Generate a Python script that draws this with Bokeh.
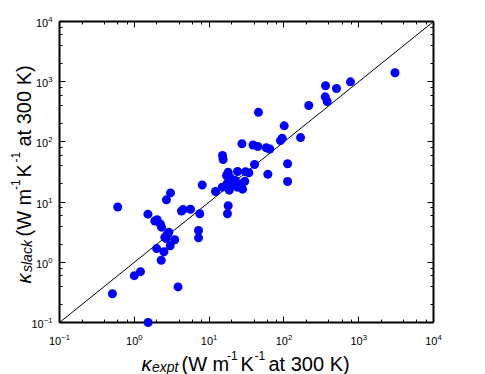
import math
from bokeh.plotting import figure
from bokeh.models import Range1d, LogAxis, LogScale, Label
from bokeh.embed import file_html
from bokeh.resources import INLINE

# thermal conductivity (W m^-1 K^-1 at 300 K)
kappa_expt = [0.51, 0.60, 1.00, 1.21, 1.53, 1.52, 1.88, 2.02, 2.24, 2.31,
              2.69, 3.05, 2.89, 2.75, 2.56, 2.67, 3.47, 1.99, 2.49, 3.02,
              2.29, 3.84, 4.27, 4.5, 5.64, 7.51, 7.22, 7.22, 8.09, 12.2,
              15.0, 17.5, 18.0, 17.6, 18.6, 19.3, 15.1, 15.4, 18.0, 17.1,
              19.3, 24.0, 30.7, 34.0, 30.0, 27.1, 22.5, 25.0, 28.0, 23.8,
              27.5, 38.6, 44.8, 58.2, 64.7, 40.5, 61.0, 45.7, 101, 94.9,
              90.0, 167, 112, 112, 215, 357, 379, 360, 505, 776, 3055]
kappa_slack = [0.30, 8.3, 0.60, 0.70, 0.10, 6.3, 4.85, 5.1, 4.28, 3.83,
               10.9, 14.2, 3.16, 2.9, 2.61, 2.48, 2.37, 1.69, 1.50, 1.88,
               1.08, 0.39, 7.1, 7.5, 7.6, 6.4, 3.37, 2.55, 19.2, 15.0,
               17.7, 20.6, 8.7, 6.4, 15.8, 19.4, 59.4, 51.0, 31.4, 27.7,
               25.3, 32.2, 31.8, 30.7, 22.2, 20.1, 22.8, 19.6, 16.4, 17.7,
               93, 88.7, 83.9, 79.8, 76.3, 42.2, 29.0, 310, 185, 115,
               105, 118, 43.3, 22.0, 403, 561, 469, 855, 771, 995, 1406]
axis_limits = [0.1, 1e4]

# ---- layout (pixels) ----
W, H = 485, 374
BOX_L, BOX_R, BOX_T, BOX_B = 59, 433, 21, 322
FONT = "Liberation Sans"

lo, hi = math.log10(axis_limits[0]), math.log10(axis_limits[1])
xdec = (BOX_R - BOX_L) / (hi - lo)
ydec = (BOX_B - BOX_T) / (hi - lo)
x_range = Range1d(10 ** (lo - BOX_L / xdec), 10 ** (hi + (W - BOX_R) / xdec))
y_range = Range1d(10 ** (lo - (H - BOX_B) / ydec), 10 ** (hi + BOX_T / ydec))

p = figure(width=W, height=H, x_axis_type=None, y_axis_type=None,
           x_range=x_range, y_range=y_range,
           output_backend="svg", toolbar_location=None,
           min_border=0)
p.x_scale = LogScale()
p.y_scale = LogScale()
p.grid.visible = False
p.outline_line_color = None
p.background_fill_color = "white"
p.border_fill_color = "white"

p.line(axis_limits, axis_limits, line_color="black", line_width=1)


def make_axis(side, fixed, standoff):
    ax = LogAxis(fixed_location=fixed, bounds=tuple(axis_limits))
    ax.axis_line_color = "black"
    ax.axis_line_width = 2
    ax.major_tick_in = 6
    ax.major_tick_out = 0
    ax.minor_tick_in = 3
    ax.minor_tick_out = 0
    ax.major_tick_line_color = "black"
    ax.minor_tick_line_color = "black"
    ax.major_tick_line_width = 1
    ax.minor_tick_line_width = 1
    if standoff is not None:
        ax.major_label_text_font = FONT
        ax.major_label_text_font_size = "11px"
        ax.major_label_text_color = "black"
        ax.major_label_standoff = standoff
    else:
        ax.major_label_text_font_size = "1px"
        ax.major_label_text_alpha = 0
        ax.major_label_standoff = 0
    p.add_layout(ax, side)


make_axis("below", axis_limits[0], 11)
make_axis("left", axis_limits[0], 7)
make_axis("above", axis_limits[1], None)
make_axis("right", axis_limits[1], None)

p.scatter(kappa_expt, kappa_slack, size=9, fill_color="blue", line_color=None,
          level="overlay")


def run(text, px, py, size, italic=False, angle=0.0):
    # px, py: canvas pixels from top-left
    p.add_layout(Label(x=px, y=H - py, x_units="screen", y_units="screen",
                       text=text, angle=angle, text_font=FONT,
                       text_font_size=f"{size}px",
                       text_font_style="italic" if italic else "normal",
                       text_color="black", text_baseline="alphabetic",
                       text_align="left", level="overlay"))


# x axis label: kappa_expt (W m^-1 K^-1 at 300 K)
xb = 363
run("κ", 141, xb, 20, italic=True)
run("expt", 151.5, xb + 3, 14, italic=True)
run("(W m", 181, xb, 20)
run("-1", 226.5, xb - 8, 12)
run("K", 240, xb, 20)
run("-1", 254, xb - 8, 12)
run("at 300 K)", 268, xb, 20)

# y axis label: kappa_slack (W m^-1 K^-1 at 300 K), rotated
yb = 23
a = math.pi / 2
run("κ", yb, 283, 20, italic=True, angle=a)
run("slack", yb + 3, 271.5, 14, italic=True, angle=a)
run("(W m", yb, 236, 20, angle=a)
run("-1", yb - 8, 189.5, 12, angle=a)
run("K", yb, 177, 20, angle=a)
run("-1", yb - 8, 162, 12, angle=a)
run("at 300 K)", yb, 146, 20, angle=a)

open("out.html", "w").write(file_html(p, INLINE))
